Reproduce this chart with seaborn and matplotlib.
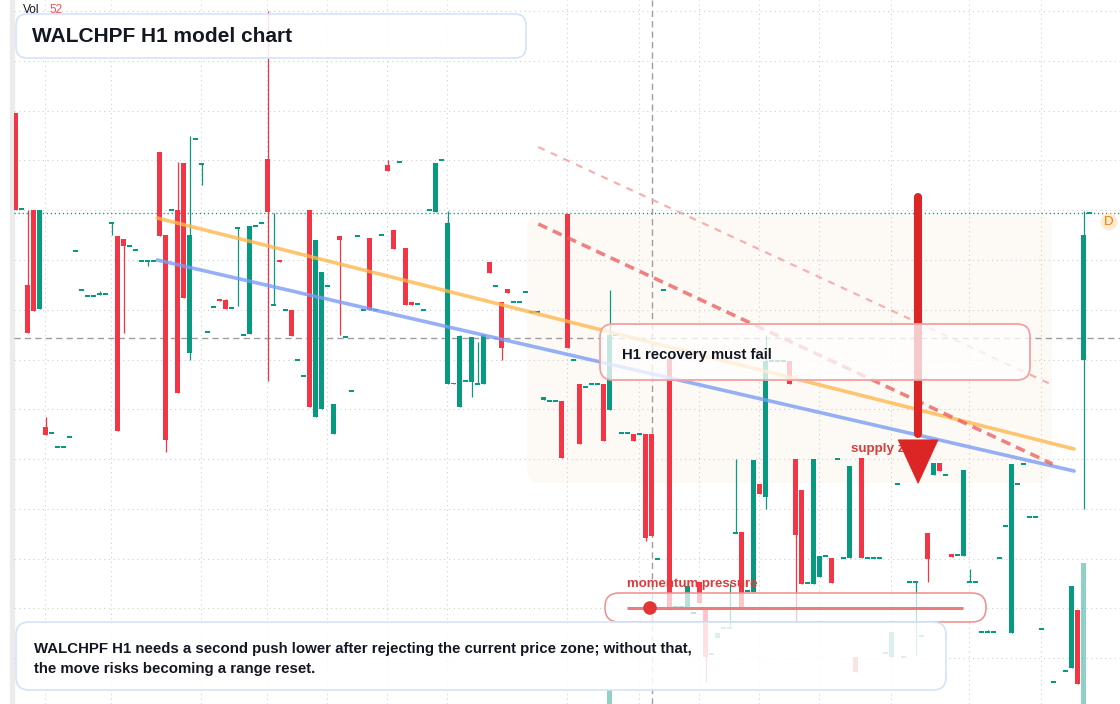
import numpy as np
import matplotlib
matplotlib.use("Agg")
import matplotlib.pyplot as plt
import seaborn as sns
from matplotlib.patches import FancyBboxPatch, Circle, Polygon
from matplotlib.transforms import IdentityTransform

# ----- candles (price units, one bar per hour) -----
nan = np.nan
opens = [
    59.1, 49.5, 41.9, 49.4, 39.5, 27.7, 27.1, 25.7, 25.7, 26.7,
    45.3, 41.4, 40.8, 40.8, 40.9, 41.0, 48.1, 46.8, 46.5, 45.8,
    45.4, 44.3, 44.3, 44.3, 55.2, 46.9, 49.4, 49.4, 54.1, 35.1,
    56.5, 54.0, 37.2, 39.7, 40.5, 40.4, 39.6, 47.6, 36.9, 37.0,
    47.8, 48.1, 54.5, 39.9, 44.35, 39.4, 39.4, 34.4, 32.8, 49.4,
    28.7, 29.5, 41.8, 27.0, 46.8, 36.7, 31.3, 46.8, 39.4, 46.6,
    39.4, 46.9, 53.9, 47.4, 54.2, 45.6, 40.2, 40.0, 39.4, 49.4,
    49.2, 54.4, 32.0, 32.1, 29.7, 32.3, 32.2, 32.0, 32.0, 44.2,
    41.8, 40.2, 41.5, 40.2, 40.2, 41.2, 39.2, 39.2, 30.4, 30.3,
    30.3, 30.3, 49.0, 34.4, 32.0, 31.7, 32.0, 32.0, 32.0, 29.4,
    36.9, 27.1, 27.1, 27.0, 27.0, 27.0, 27.0, 14.5, 41.4, 34.5,
    9.7, 9.7, 9.7, 9.1, 12.2, 9.6, 5.0, 6.6, 7.6, 7.6,
    17.1, 17.2, 11.3, 11.2, 22.0, 20.7, 34.3, 34.3, 34.3, 34.3,
    24.5, 21.4, 12.1, 12.0, 12.7, 14.8, 14.6, 24.5, 14.6, 14.6,
    4.7, 24.6, 14.6, 14.6, 14.6, 5.1, 4.7, 22.0, 4.7, 12.2,
    12.2, 6.8, 17.1, 22.9, 24.1, 22.9, 15.0, 14.9, 14.8, 12.2,
    12.2, 7.2, 7.2, 7.2, 14.6, 17.8, 7.1, 22.0, 24.0, 18.7,
    18.7, 7.5, nan, 2.2, nan, 3.3, 3.6, 9.4, 34.4, 49.1,
]
highs = [
    59.1, 49.5, 49.4, 49.4, 49.4, 28.7, 27.1, 25.7, 25.7, 26.7,
    45.3, 41.4, 40.8, 40.8, 41.3, 41.0, 48.1, 46.8, 46.5, 45.8,
    45.4, 44.3, 44.3, 44.3, 55.2, 46.9, 49.4, 54.2, 54.1, 56.8,
    56.5, 54.0, 37.2, 39.7, 40.5, 40.5, 39.6, 47.6, 36.9, 47.8,
    47.8, 48.1, 69.3, 49.1, 44.35, 39.4, 39.4, 34.4, 32.8, 49.4,
    46.4, 43.2, 41.8, 30.0, 46.8, 36.7, 31.3, 46.8, 39.4, 46.6,
    39.4, 46.9, 54.4, 47.4, 54.2, 45.6, 40.2, 40.0, 39.4, 49.4,
    54.1, 54.4, 49.3, 32.1, 36.9, 32.3, 36.7, 36.2, 36.9, 44.2,
    41.8, 40.2, 41.5, 40.2, 40.2, 41.2, 39.2, 39.2, 30.7, 30.3,
    30.3, 30.3, 49.0, 34.4, 32.0, 31.7, 32.0, 32.0, 32.0, 41.4,
    36.9, 27.1, 27.1, 27.0, 27.0, 27.0, 27.0, 14.5, 41.4, 34.5,
    9.7, 9.7, 11.8, 9.1, 12.2, 9.6, 5.0, 7.1, 7.6, 12.1,
    24.5, 17.2, 11.3, 24.4, 22.0, 36.9, 34.3, 34.3, 34.3, 34.3,
    24.5, 21.4, 12.1, 24.5, 14.8, 14.8, 14.6, 24.5, 14.6, 23.8,
    4.7, 24.6, 14.6, 14.6, 14.6, 5.1, 7.2, 22.0, 4.7, 12.2,
    12.2, 6.8, 17.1, 24.1, 24.1, 22.9, 15.0, 14.9, 23.4, 13.5,
    12.2, 7.2, 7.4, 7.2, 14.6, 17.8, 24.0, 22.0, 24.0, 18.7,
    18.7, 7.5, nan, 2.2, nan, 3.3, 11.8, 9.4, 49.3, 49.1,
]
lows = [
    49.4, 49.5, 37.1, 39.3, 39.5, 26.9, 27.1, 25.7, 25.7, 26.7,
    45.3, 41.4, 40.8, 40.8, 40.9, 41.0, 46.9, 27.3, 37.1, 45.8,
    45.4, 44.3, 43.8, 44.3, 46.8, 25.2, 49.4, 31.1, 40.6, 34.4,
    56.5, 51.9, 37.2, 39.7, 40.3, 39.5, 39.6, 39.8, 36.9, 37.0,
    47.8, 48.1, 32.3, 39.9, 44.25, 39.4, 36.8, 34.4, 32.8, 29.7,
    28.7, 29.5, 41.8, 27.0, 36.9, 36.7, 31.3, 46.8, 39.4, 39.4,
    39.4, 46.9, 53.3, 45.5, 54.2, 39.9, 39.9, 40.0, 39.4, 49.4,
    49.2, 54.4, 32.0, 32.0, 29.7, 32.3, 30.7, 32.0, 32.0, 43.1,
    41.8, 34.4, 41.1, 40.2, 40.2, 41.2, 39.2, 39.2, 30.4, 30.3,
    30.3, 24.6, 35.6, 34.4, 26.0, 31.7, 32.0, 32.0, 26.3, 29.4,
    36.9, 27.1, 27.1, 26.3, 27.0, 16.3, 16.8, 14.5, 41.4, 9.4,
    9.7, 9.7, 9.7, 9.1, 10.1, 2.2, 5.0, 6.6, 7.6, 7.6,
    17.1, 9.7, 11.3, 11.2, 21.0, 19.5, 34.3, 34.3, 34.3, 32.0,
    8.2, 12.0, 12.1, 12.0, 12.7, 14.8, 12.1, 24.5, 14.6, 14.6,
    3.2, 14.6, 14.6, 14.6, 14.6, 5.1, 4.7, 22.0, 4.7, 12.2,
    4.9, 6.8, 12.2, 22.9, 23.3, 22.9, 14.7, 14.9, 14.8, 12.2,
    12.2, 7.2, 7.2, 7.2, 14.6, 17.8, 7.1, 22.0, 24.0, 18.7,
    18.7, 7.5, nan, 2.2, nan, 3.3, 3.6, 2.0, 19.5, 49.1,
]
closes = [
    49.4, 49.5, 37.1, 39.3, 49.4, 26.9, 27.1, 25.7, 25.7, 26.7,
    45.3, 41.4, 40.8, 40.8, 41.1, 41.0, 48.1, 27.3, 45.8, 45.8,
    45.4, 44.3, 44.3, 44.3, 46.8, 26.4, 49.4, 31.1, 40.6, 46.9,
    56.5, 54.0, 37.2, 39.7, 40.3, 39.5, 39.6, 47.6, 36.9, 47.8,
    47.8, 48.1, 49.2, 39.9, 44.25, 39.4, 36.8, 34.4, 32.8, 29.7,
    46.4, 43.2, 41.8, 30.0, 46.4, 36.7, 31.3, 46.8, 39.4, 39.4,
    39.4, 46.9, 53.3, 45.5, 54.2, 39.9, 39.9, 40.0, 39.4, 49.4,
    54.1, 54.4, 48.1, 32.0, 36.8, 32.3, 36.7, 32.0, 36.9, 43.1,
    41.8, 35.6, 41.1, 40.2, 40.2, 41.2, 39.2, 39.2, 30.7, 30.3,
    30.3, 24.6, 35.6, 34.4, 26.0, 31.7, 32.0, 32.0, 26.3, 36.9,
    36.9, 27.1, 27.1, 26.3, 27.0, 16.6, 16.8, 14.5, 41.4, 9.4,
    9.7, 9.7, 11.8, 9.1, 10.1, 4.7, 5.0, 7.1, 7.6, 7.6,
    17.1, 9.7, 11.3, 24.4, 21.0, 34.3, 34.3, 34.3, 34.3, 32.0,
    16.9, 12.0, 12.1, 24.5, 14.8, 14.8, 12.1, 24.5, 14.6, 23.8,
    3.2, 14.6, 14.6, 14.6, 14.6, 5.1, 7.2, 22.0, 4.7, 12.2,
    12.2, 6.8, 14.5, 24.1, 23.3, 22.9, 14.7, 14.9, 23.4, 12.2,
    12.2, 7.2, 7.2, 7.2, 14.6, 17.8, 24.0, 22.0, 24.0, 18.7,
    18.7, 7.5, nan, 2.2, nan, 3.3, 11.8, 2.0, 46.9, 49.1,
]

# volume bars that rise above the bottom edge
vol_idx = [99, 178]
vol_val = [1.4, 14.1]

# session grid (bar index) and price grid levels
grid_bars = [5, 16, 31, 42, 52, 62, 72, 92, 104, 114, 124, 134, 146, 159, 171]
grid_prices = [69.3, 64.3, 59.3, 54.4, 49.4, 44.4, 39.4, 34.4, 29.5, 24.5, 19.5, 14.5, 9.6, 4.6]

last_price = 49.1
ref_price = 36.6
marker_bar = 106

# trend lines (bar index, price)
upper_trend_x, upper_trend_y = [23.6, 176.4], [48.6, 25.5]
lower_trend_x, lower_trend_y = [23.6, 176.4], [44.4, 23.3]
channel_x = [87.1, 172.8]
channel_mid_y = [48.0, 24.0]
channel_top_y = [55.7, 31.9]

# target arrow (bar index, prices)
arrow_bar = 150.4
arrow_from, arrow_neck, arrow_tip = 50.7, 26.4, 22.1
arrow_half_w = 3.28

UP, DOWN = "#089981", "#f23645"
TXT = "#131722"

sns.set_theme(style="white")
plt.rcParams["font.family"] = ["Liberation Sans", "DejaVu Sans"]
plt.rcParams["lines.scale_dashes"] = False

W, H = 1120, 704
fig = plt.figure(figsize=(W / 100, H / 100), dpi=100)
fig.patch.set_facecolor("white")
ax = fig.add_axes([14 / W, 0, (W - 14) / W, 1])
ax.set_axis_off()
PX = IdentityTransform()


def rbox(x0, y0, x1, y1, r, fc, ec, lw, z):
    p = FancyBboxPatch((x0, H - y1), x1 - x0, y1 - y0,
                       boxstyle=f"round,pad=0,rounding_size={r}",
                       transform=PX, fc=fc, ec=ec, lw=lw, zorder=z)
    ax.add_artist(p)


# left price-scale strip
fig.add_artist(plt.Rectangle((10 / W, 0), 4 / W, 1, transform=fig.transFigure,
                             color="#ebebeb", zorder=0))

# ----- grid -----
for gp in grid_prices:
    ax.axhline(gp, color="#cfcfcf", lw=0.8, dashes=(0.8, 2.6), zorder=0.6)
for gb in grid_bars:
    ax.axvline(gb - 0.07, color="#cfcfcf", lw=0.8, dashes=(0.8, 2.6), zorder=0.6)

# highlighted zone behind price
rbox(527, 215, 1052, 483, 14, (0.99, 0.965, 0.935, 0.55), "none", 0, 0.5)

ax.axhline(last_price, color=UP, lw=1.0, dashes=(0.9, 2.0), zorder=1)
ax.axhline(ref_price, color="#9e9e9e", lw=1.0, dashes=(4.5, 3), zorder=1)
ax.axvline(marker_bar, color="#9e9e9e", lw=1.0, dashes=(4.5, 3), zorder=1)

# ----- candles -----
o = np.array(opens)
c = np.array(closes)
hi = np.array(highs)
lo = np.array(lows)
xs = np.arange(len(o))
ok = ~np.isnan(o)
up = c >= o
cols = np.where(up, UP, DOWN)

ax.vlines(xs[ok], lo[ok], hi[ok], colors=cols[ok], lw=0.9, zorder=2)
body_lo = np.minimum(o, c)
body_h = np.abs(c - o)
doji = body_h < 0.13
body_lo = np.where(doji, body_lo - (0.13 - body_h) / 2, body_lo)
body_h = np.maximum(body_h, 0.13)
ax.bar(xs[ok], body_h[ok], bottom=body_lo[ok], width=0.8, color=cols[ok],
       linewidth=0, zorder=2.1)

ax.bar(vol_idx, vol_val, width=0.8, color=UP, alpha=0.45, linewidth=0, zorder=1.5)

# ----- trend lines -----
sns.lineplot(x=upper_trend_x, y=upper_trend_y, ax=ax, color="#ffb74d",
             lw=2.6, alpha=0.8, zorder=3)
sns.lineplot(x=lower_trend_x, y=lower_trend_y, ax=ax, color="#7b9cf4",
             lw=2.6, alpha=0.8, zorder=3)
ax.plot(channel_x, channel_top_y, color="#f4a3a3", lw=1.6, alpha=0.85,
        dashes=(5, 5), zorder=3)
ax.plot(channel_x, channel_mid_y, color="#e85a5a", lw=2.6, alpha=0.75,
        dashes=(7, 4.5), zorder=3)

ax.text(851, H - 452, "supply zone", transform=PX, color="#e03a3a",
        fontsize=9.6, fontweight="bold", zorder=3.5)

# ----- arrow -----
ax.plot([arrow_bar, arrow_bar], [arrow_from, arrow_neck + 0.6], color="#dc2626",
        lw=5.8, solid_capstyle="round", zorder=4)
ax.add_patch(Polygon([(arrow_bar - arrow_half_w, arrow_neck),
                      (arrow_bar + arrow_half_w, arrow_neck),
                      (arrow_bar, arrow_tip)], closed=True, fc="#dc2626",
                     ec="#dc2626", lw=0.8, joinstyle="round", zorder=4))

# ----- annotation boxes -----
rbox(16, 14, 526, 58, 11, (1, 1, 1, 0.88), "#d5e3fa", 1.2, 5)
ax.text(32, H - 42.5, "WALCHPF H1 model chart", transform=PX, color=TXT,
        fontsize=15, fontweight="bold", zorder=6)

rbox(600, 324, 1030, 380, 13, (1, 1, 1, 0.76), "#f3a1a1", 1.3, 5)
ax.text(622, H - 359.3, "H1 recovery must fail", transform=PX, color=TXT,
        fontsize=10.7, fontweight="bold", zorder=6)

rbox(605, 593, 986, 622, 14, (1, 1, 1, 0.72), "#f08c8c", 1.1, 5)
ax.plot([627, 963], [H - 608, H - 608], transform=PX, color="#ec7d7d",
        lw=2.2, solid_capstyle="butt", zorder=6)
ax.add_artist(Circle((650, H - 608), 6.8, transform=PX, fc="#e23636",
                     ec="none", zorder=6.5))
ax.text(627, H - 587, "momentum pressure", transform=PX, color="#e03a3a",
        fontsize=9.5, fontweight="bold", zorder=6)

rbox(16, 622, 946, 690, 13, (1, 1, 1, 0.86), "#d5e3fa", 1.2, 5)
ax.text(34, H - 653.3,
        "WALCHPF H1 needs a second push lower after rejecting the current price zone; without that,",
        transform=PX, color=TXT, fontsize=10.8, fontweight="bold", zorder=6)
ax.text(34, H - 673.3, "the move risks becoming a range reset.", transform=PX,
        color=TXT, fontsize=10.8, fontweight="bold", zorder=6)

# last-bar marker
ax.add_artist(Circle((1109, H - 222), 8.5, transform=PX, fc="#fdebd3",
                     ec="none", zorder=6))
ax.text(1109, H - 222, "D", transform=PX, color="#f57c00", fontsize=9.5,
        ha="center", va="center", zorder=6.5)

ax.text(22.5, H - 12.7, "Vol", transform=PX, color=TXT, fontsize=8.6, zorder=6)
ax.text(50, H - 12.7, "52", transform=PX, color="#f25454", fontsize=8.6, zorder=6)

ax.set_xlim(-0.283, 184.05)
ax.set_ylim(0, 70.4)

fig.savefig("out.png", dpi=100)
